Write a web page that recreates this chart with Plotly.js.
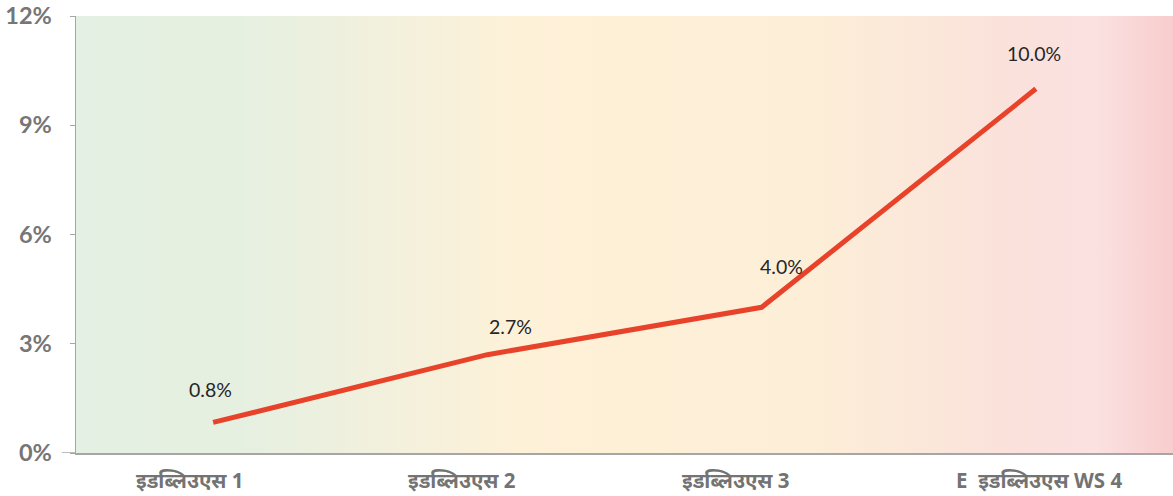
<!DOCTYPE html>
<html>
<head>
<meta charset="utf-8">
<script src="https://cdn.plot.ly/plotly-3.0.1.min.js"></script>
<style>html,body{margin:0;padding:0;background:#fff;}#chart{width:1173px;height:496px;}</style>
</head>
<body>
<div id="chart"></div>
<script>
const categories = ["इडब्लिउएस 1", "इडब्लिउएस 2", "इडब्लिउएस 3", "E  इडब्लिउएस WS 4"];
const values = [0.0084, 0.027, 0.040, 0.100];
const yTickVals = [0, 0.03, 0.06, 0.09, 0.12];
const yTickText = ["0%", "3%", "6%", "9%", "12%"];

// label offsets (style only)
const labelShiftX = [-3, 23, 20, -2];
const labelShiftY = [33, 28, 41, 35];
const catShiftX = [-23, -25, -26, 3];

const gradSvg = '<svg xmlns="http://www.w3.org/2000/svg" width="1000" height="100" preserveAspectRatio="none">' +
  '<defs><linearGradient id="g" x1="0" y1="0" x2="1" y2="0">' +
  '<stop offset="0" stop-color="#e4f0e3"/>' +
  '<stop offset="0.15" stop-color="#e6f0e1"/>' +
  '<stop offset="0.40" stop-color="#fdf1d8"/>' +
  '<stop offset="0.66" stop-color="#fdefd7"/>' +
  '<stop offset="0.86" stop-color="#fae1dc"/>' +
  '<stop offset="0.93" stop-color="#fbe1e1"/>' +
  '<stop offset="1" stop-color="#f8cdcd"/>' +
  '</linearGradient></defs><rect width="1000" height="100" fill="url(#g)"/></svg>';

const valueLabels = values.map((v, i) => ({
  x: categories[i], y: v, xref: 'x', yref: 'y',
  text: (v * 100).toFixed(1) + '%',
  showarrow: false,
  xshift: labelShiftX[i], yshift: labelShiftY[i],
  font: {family: 'Lato, "Open Sans", sans-serif', size: 19.5, color: '#262626'}
}));

const catLabels = categories.map((c, i) => ({
  x: c, y: 0, xref: 'x', yref: 'paper',
  text: c, showarrow: false,
  xshift: catShiftX[i], yshift: -27, yanchor: 'middle',
  font: {family: '"Noto Sans", "Open Sans", sans-serif', size: 20.5, color: '#737373', weight: 'bold'}
}));

const trace = {
  x: categories, y: values, type: 'scatter', mode: 'lines',
  line: {color: '#e8432a', width: 5},
  hoverinfo: 'skip'
};

const layout = {
  width: 1173, height: 496,
  margin: {l: 76, r: 0, t: 16, b: 43},
  paper_bgcolor: '#ffffff',
  plot_bgcolor: 'rgba(0,0,0,0)',
  showlegend: false,
  images: [{
    source: 'data:image/svg+xml;charset=utf-8,' + encodeURIComponent(gradSvg),
    xref: 'paper', yref: 'paper', x: 0, y: 1, sizex: 1, sizey: 1,
    xanchor: 'left', yanchor: 'top', sizing: 'stretch', layer: 'below'
  }],
  xaxis: {
    type: 'category', range: [-0.5, 3.5],
    showgrid: false, zeroline: false,
    showline: true, linecolor: '#a6a6a6', linewidth: 1.5,
    ticks: '', showticklabels: false
  },
  yaxis: {
    range: [0, 0.12], tickvals: yTickVals, ticktext: yTickText,
    showgrid: false, zeroline: false,
    showline: true, linecolor: '#a6a6a6', linewidth: 1.5,
    ticks: 'outside', ticklen: 5, tickcolor: '#a6a6a6', tickwidth: 1,
    ticklabelstandoff: 13,
    tickfont: {family: 'Lato, "Open Sans", sans-serif', size: 23.5, color: '#767676', weight: 'bold'}
  },
  shapes: [{
    type: 'line', xref: 'paper', yref: 'y', x0: -0.013, x1: 0, y0: 0, y1: 0,
    line: {color: '#a6a6a6', width: 1.5}
  }],
  annotations: valueLabels.concat(catLabels)
};

Plotly.newPlot('chart', [trace], layout, {displayModeBar: false, staticPlot: true});
</script>
</body>
</html>
